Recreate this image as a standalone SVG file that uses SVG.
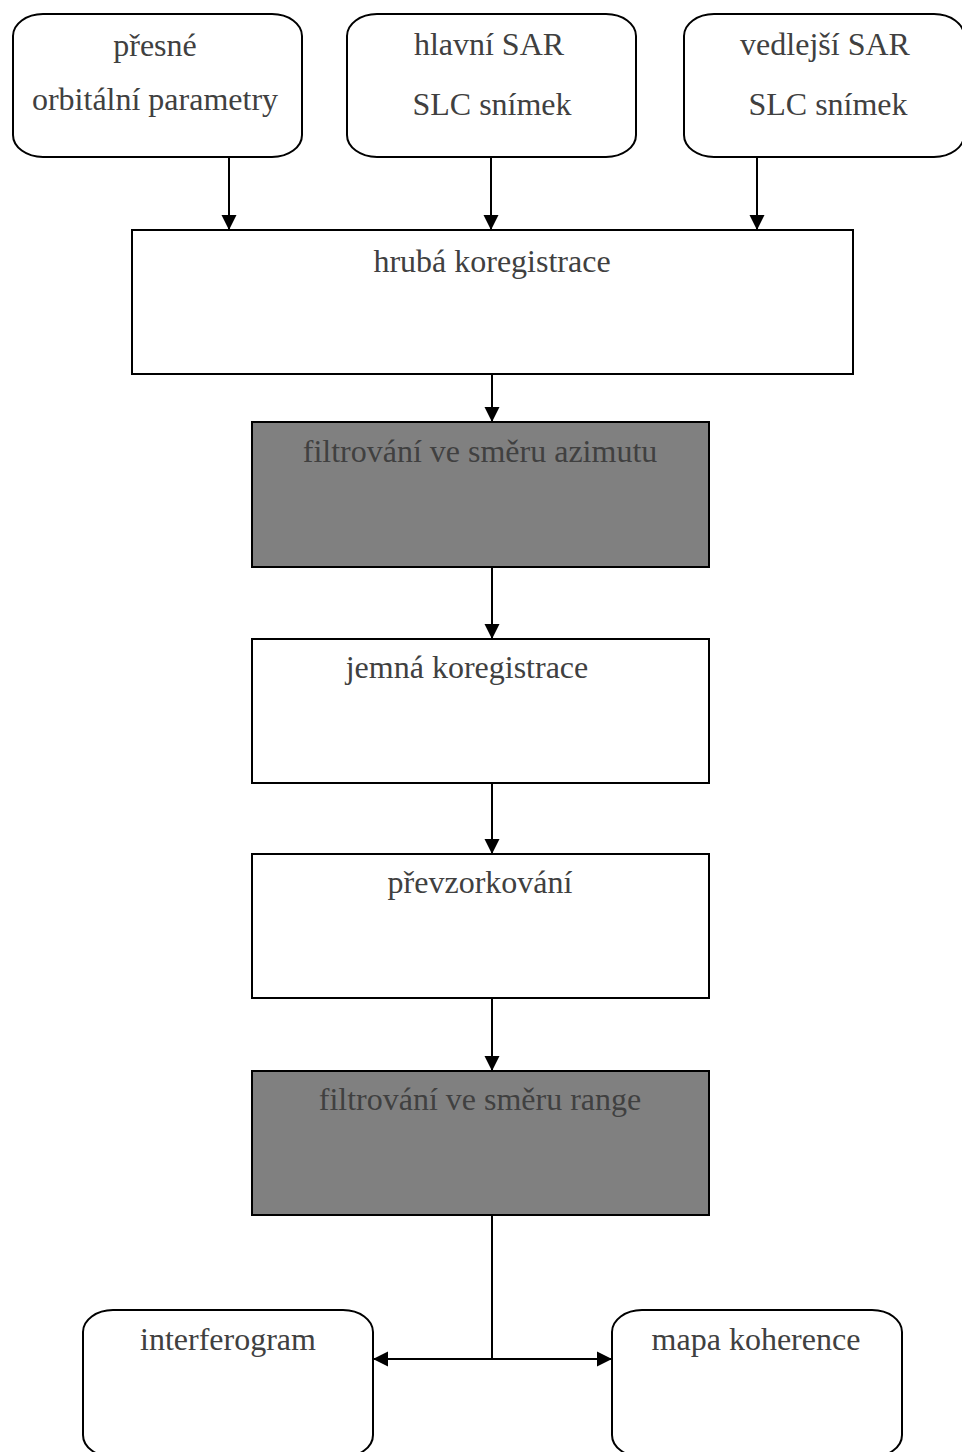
<svg xmlns="http://www.w3.org/2000/svg" width="962" height="1452" viewBox="0 0 962 1452">
<style>
.box{fill:#ffffff;stroke:#000;stroke-width:2}
.dark{fill:#808080;stroke:#000;stroke-width:2}
.lbl{font-family:"Liberation Serif","Times New Roman",serif;font-size:32px;fill:#404040;text-anchor:middle}
.con{stroke:#000;stroke-width:2;fill:none}
</style>
<defs>
<marker id="arr" markerUnits="userSpaceOnUse" markerWidth="16" markerHeight="16" refX="15" refY="8" orient="auto">
<path d="M0,0.5 L15,8 L0,15.5 z" fill="#000"/>
</marker>
</defs>
<rect width="962" height="1452" fill="#ffffff"/>
<g id="n-presne">
<rect class="box" x="13" y="14" width="289" height="143" rx="30" ry="22"/>
<text class="lbl" x="155" y="56">přesné</text>
<text class="lbl" x="155" y="110">orbitální parametry</text>
</g>
<g id="n-hlavni">
<rect class="box" x="347" y="14" width="289" height="143" rx="30" ry="22"/>
<text class="lbl" x="489" y="55">hlavní SAR</text>
<text class="lbl" x="492" y="115">SLC snímek</text>
</g>
<g id="n-vedlejsi">
<rect class="box" x="684" y="14" width="280" height="143" rx="30" ry="22"/>
<text class="lbl" x="825" y="55">vedlejší SAR</text>
<text class="lbl" x="828" y="115">SLC snímek</text>
</g>
<g id="n-hruba">
<rect class="box" x="132" y="230" width="721" height="144"/>
<text class="lbl" x="492" y="272">hrubá koregistrace</text>
</g>
<g id="n-azimut">
<rect class="dark" x="252" y="422" width="457" height="145"/>
<text class="lbl" x="480" y="462">filtrování ve směru azimutu</text>
</g>
<g id="n-jemna">
<rect class="box" x="252" y="639" width="457" height="144"/>
<text class="lbl" x="467" y="678">jemná koregistrace</text>
</g>
<g id="n-prevz">
<rect class="box" x="252" y="854" width="457" height="144"/>
<text class="lbl" x="480" y="893">převzorkování</text>
</g>
<g id="n-range">
<rect class="dark" x="252" y="1071" width="457" height="144"/>
<text class="lbl" x="480" y="1110">filtrování ve směru range</text>
</g>
<g id="n-interf">
<rect class="box" x="83" y="1310" width="290" height="147" rx="30" ry="22"/>
<text class="lbl" x="228" y="1350">interferogram</text>
</g>
<g id="n-mapa">
<rect class="box" x="612" y="1310" width="290" height="147" rx="30" ry="22"/>
<text class="lbl" x="756" y="1350">mapa koherence</text>
</g>
<g id="connectors">
<line class="con" x1="229" y1="157" x2="229" y2="230" marker-end="url(#arr)"/>
<line class="con" x1="491" y1="157" x2="491" y2="230" marker-end="url(#arr)"/>
<line class="con" x1="757" y1="157" x2="757" y2="230" marker-end="url(#arr)"/>
<line class="con" x1="492" y1="374" x2="492" y2="422" marker-end="url(#arr)"/>
<line class="con" x1="492" y1="567" x2="492" y2="639" marker-end="url(#arr)"/>
<line class="con" x1="492" y1="783" x2="492" y2="854" marker-end="url(#arr)"/>
<line class="con" x1="492" y1="998" x2="492" y2="1071" marker-end="url(#arr)"/>
<line class="con" x1="492" y1="1215" x2="492" y2="1359"/>
<line class="con" x1="492" y1="1359" x2="373" y2="1359" marker-end="url(#arr)"/>
<line class="con" x1="492" y1="1359" x2="612" y2="1359" marker-end="url(#arr)"/>
</g>
</svg>
